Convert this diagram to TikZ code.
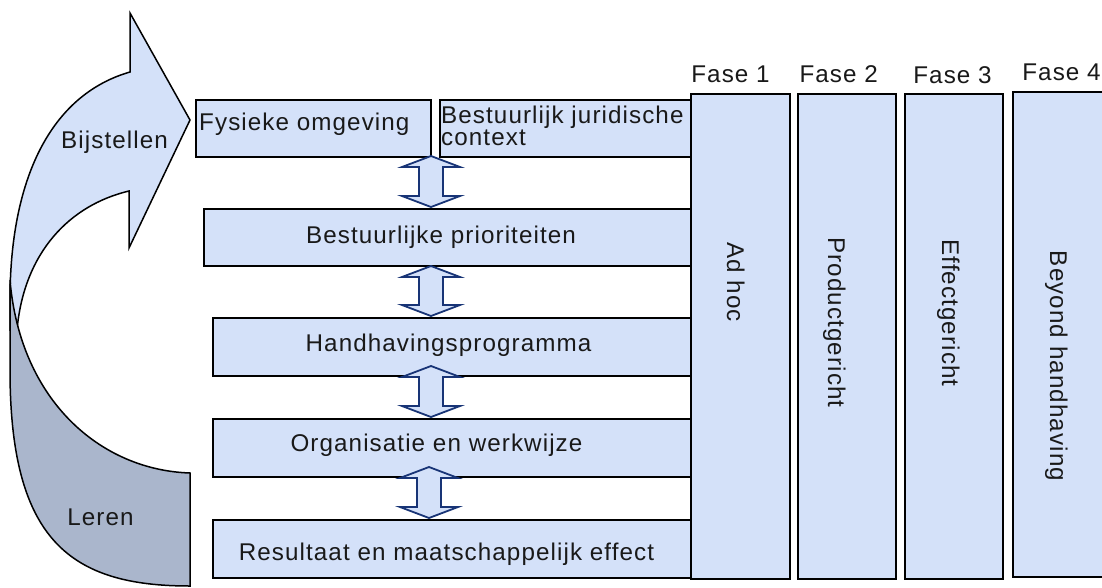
\documentclass[tikz,border=0pt]{standalone}
\usepackage{fontspec}
\setmainfont{Liberation Sans}[LetterSpace=4.5]
\definecolor{paleblue}{RGB}{212,225,249}
\definecolor{greyblue}{RGB}{170,182,204}
\definecolor{navy}{RGB}{24,52,118}
\definecolor{ink}{RGB}{25,25,25}
\newcommand{\dblarr}[3]{%
  \draw[dblarrow] (#1,#2) -- ++(29,11) -- ++(-17,0) -- (#1+12,#3-11) -- ++(17,0)
    -- (#1,#3) -- ++(-29,-11) -- ++(17,0) -- (#1-12,#2+11) -- ++(-17,0) -- cycle;}
\begin{document}
\begin{tikzpicture}[x=1pt,y=-1pt,
  box/.style={draw=black,line width=1.5pt,fill=paleblue,inner sep=0pt,anchor=north west},
  col/.style={draw=black,line width=1.8pt,fill=paleblue,inner sep=0pt,anchor=north west},
  dblarrow/.style={draw=navy,line width=1.8pt,fill=paleblue,line join=miter},
  curve/.style={draw=black,line width=1.5pt,line join=miter},
  lbl/.style={inner sep=0pt,text=ink,font=\fontsize{24.2pt}{22pt}\selectfont},
]
\clip (0,0) rectangle (1102,587);
\fill[white] (0,0) rectangle (1102,587);

% curved arrow (Bijstellen)
\draw[curve,fill=paleblue] (130,72) -- (130,13) -- (190,120) -- (129,248) -- (129,191)
  .. controls (70,205) and (24,252) .. (17,330) -- (10,330) -- (10,300)
  .. controls (10,180) and (50,95) .. (130,72) -- cycle;
% back part (Leren)
\draw[curve,fill=greyblue] (10,280) .. controls (20,400) and (100,470) .. (190,473)
  -- (190,586) .. controls (70,586) and (10,540) .. (10,370) -- cycle;
\node[lbl,anchor=base] (bijst) at (114.5,148) {Bijstellen};
\node[lbl,anchor=base] (leren) at (100.5,525) {Leren};

% left boxes
\node[box,minimum width=235pt,minimum height=57pt] (b1) at (195,99) {};
\node[box,minimum width=252pt,minimum height=57pt] (b2) at (439,99) {};
\node[box,minimum width=488pt,minimum height=57pt] (b3) at (203,208) {};
\node[box,minimum width=479pt,minimum height=58pt] (b4) at (212,317) {};
\node[box,minimum width=479pt,minimum height=58pt] (b5) at (212,418) {};
\node[box,minimum width=479pt,minimum height=58pt] (b6) at (212,519) {};

\node[lbl,anchor=base west] (t1) at (199,130) {Fysieke omgeving};
\node[lbl,anchor=base west] (t2a) at (441,123) {Bestuurlijk juridische};
\node[lbl,anchor=base west] (t2b) at (441,145) {context};
\node[lbl,anchor=base] (t3) at (441,243) {Bestuurlijke prioriteiten};
\node[lbl,anchor=base] (t4) at (448.5,351) {Handhavingsprogramma};
\node[lbl,anchor=base] (t5) at (436.5,451) {Organisatie en werkwijze};
\node[lbl,anchor=base] (t6) at (446.5,560) {Resultaat en maatschappelijk effect};

% double arrows between the boxes
\dblarr{431}{156}{207}
\dblarr{431}{266}{316}
\dblarr{431}{366}{417}
\dblarr{429}{467}{518}

% phase columns
\node[col,minimum width=99pt,minimum height=485pt] (c1) at (690,93) {};
\node[col,minimum width=98pt,minimum height=485pt] (c2) at (797,93) {};
\node[col,minimum width=98pt,minimum height=485pt] (c3) at (904,93) {};
\node[col,minimum width=100pt,minimum height=485pt] (c4) at (1012,91) {};

\node[lbl,anchor=base] (f1) at (730.5,82) {Fase 1};
\node[lbl,anchor=base] (f2) at (838.7,82) {Fase 2};
\node[lbl,anchor=base] (f3) at (952.5,83) {Fase 3};
\node[lbl,anchor=base] (f4) at (1061.5,80) {Fase 4};

\node[lbl,anchor=base,rotate=-90] (p1) at (727,282) {Ad hoc};
\node[lbl,anchor=base,rotate=-90] (p2) at (828,322.5) {Productgericht};
\node[lbl,anchor=base,rotate=-90] (p3) at (942,313) {Effectgericht};
\node[lbl,anchor=base,rotate=-90] (p4) at (1050,366) {Beyond handhaving};
\end{tikzpicture}
\end{document}
